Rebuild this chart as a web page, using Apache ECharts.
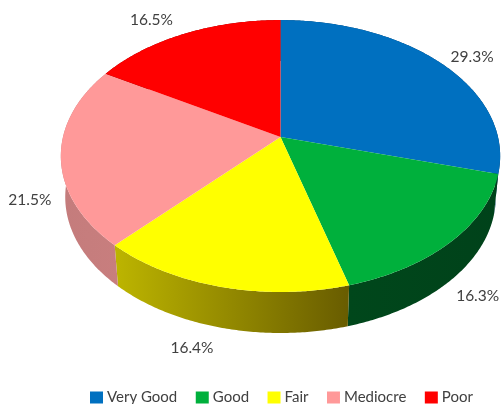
<!DOCTYPE html>
<html>
<head>
<meta charset="utf-8">
<style>html,body{margin:0;padding:0;background:#fff}#chart{width:501px;height:404px}</style>
<script src="https://cdn.jsdelivr.net/npm/echarts@6/dist/echarts.min.js"></script>
</head>
<body>
<div id="chart"></div>
<script>
// Survey ratings, share of responses in percent
const categories = ['Very Good', 'Good', 'Fair', 'Mediocre', 'Poor'];
const shares = [29.3, 16.3, 16.4, 21.5, 16.5];
const topColors = ['#0070c0', '#00b03c', '#ffff00', '#ff9999', '#ff0000'];
const wallColors = [
  ['#003a66', '#003a66'],
  ['#00471b', '#00421a'],
  ['#bdb500', '#685c00'],
  ['#c47c7c', '#c87e7e'],
  ['#800000', '#800000']
];
// Label nudges from the rim point at each slice's middle angle
const labelNudges = [[32, -6], [26, 55], [-29, 61], [-31, 44], [-33, -14]];

// Tilted disc: a circle seen in perspective, so the hub sits above the ellipse centre
const disc = { cx: 280.5, cy: 137, radius: 217.5, squash: 133.3, tilt: -0.14, depth: 41, taper: 0.98 };

function project(angle) {
  const u = Math.sin(angle);
  const v = -Math.cos(angle);
  const d = 1 + disc.tilt * v;
  return [disc.cx + disc.radius * u / d, disc.cy + disc.squash * v / d];
}

function arcPoints(a0, a1) {
  const n = Math.max(2, Math.ceil((a1 - a0) / 0.01));
  const pts = [];
  for (let i = 0; i <= n; i++) pts.push(project(a0 + (a1 - a0) * i / n));
  return pts;
}

const total = shares.reduce((s, v) => s + v, 0);

function sliceAngles(index) {
  let before = 0;
  for (let i = 0; i < index; i++) before += shares[i];
  return [before / total * 2 * Math.PI, (before + shares[index]) / total * 2 * Math.PI];
}

function renderSlice(index, params, api) {
  const value = api.value(0);
  const [a0, a1] = sliceAngles(index);
  const rim = arcPoints(a0, a1);
  // The underside is further from the eye, so its rim is a little narrower
  const lower = rim.map(p => [disc.cx + (p[0] - disc.cx) * disc.taper, p[1] + disc.depth]).reverse();
  const mid = project((a0 + a1) / 2);
  const nudge = labelNudges[index];
  return {
    type: 'group',
    children: [
      {
        type: 'polygon',
        z2: 1,
        shape: { points: rim.concat(lower) },
        style: {
          fill: new echarts.graphic.LinearGradient(0, 0, 1, 0, [
            { offset: 0, color: wallColors[index][0] },
            { offset: 1, color: wallColors[index][1] }
          ])
        }
      },
      {
        type: 'polygon',
        z2: 2,
        shape: { points: [[disc.cx, disc.cy]].concat(rim) },
        style: { fill: topColors[index] }
      },
      {
        type: 'text',
        z2: 3,
        style: {
          x: mid[0] + nudge[0],
          y: mid[1] + nudge[1],
          text: value.toFixed(1) + '%',
          font: '15.5px Lato, "Open Sans", sans-serif',
          fill: '#404040',
          align: 'center',
          verticalAlign: 'middle'
        }
      }
    ]
  };
}

const chart = echarts.init(document.getElementById('chart'), null, { renderer: 'canvas' });
chart.setOption({
  animation: false,
  backgroundColor: '#ffffff',
  legend: {
    data: categories,
    left: 85,
    top: 385,
    icon: 'rect',
    itemWidth: 13,
    itemHeight: 12,
    itemGap: 18.5,
    textStyle: { fontFamily: 'Lato, "Open Sans", sans-serif', fontSize: 15, color: '#404040', padding: [0, 0, 0, -1] }
  },
  series: categories.map((name, i) => ({
    type: 'custom',
    name,
    coordinateSystem: 'none',
    itemStyle: { color: topColors[i] },
    data: [[shares[i]]],
    renderItem: (params, api) => renderSlice(i, params, api)
  }))
});
</script>
</body>
</html>
